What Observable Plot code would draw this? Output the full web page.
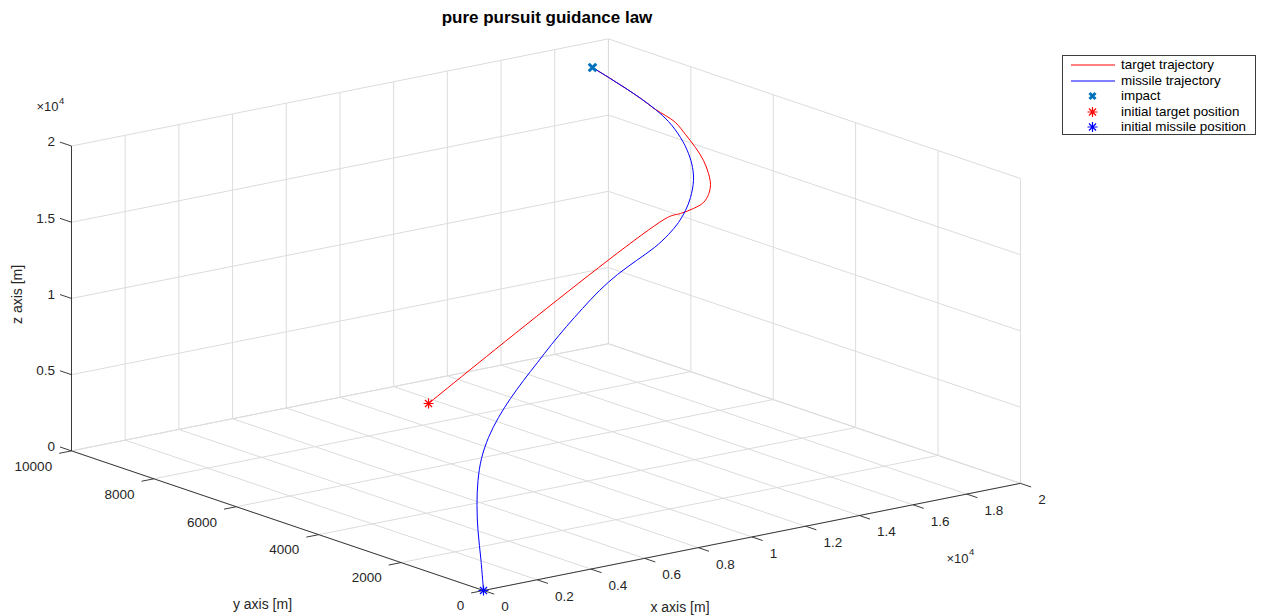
<!DOCTYPE html>
<html>
<head>
<meta charset="utf-8">
<script src="https://cdn.jsdelivr.net/npm/d3@7"></script>
<script src="https://cdn.jsdelivr.net/npm/@observablehq/plot@0.6"></script>
<style>
  html, body { margin: 0; padding: 0; background: #ffffff; }
  body { font-family: "Liberation Sans", Arial, Helvetica, sans-serif; }
  #wrap { position: relative; width: 1261px; height: 616px; overflow: hidden; }
  #chart { position: absolute; left: 0; top: 0; }
  #title { position: absolute; left: 0; width: 1094px; top: 8px; text-align: center;
           font-weight: bold; font-size: 17px; color: #000; }
  #legend { position: absolute; left: 1062px; top: 55px; width: 194px; height: 80px;
            border: 1px solid #3c3c3c; background: #fff; box-sizing: border-box; }
  .lrow { position: absolute; left: 0; height: 16px; width: 192px; }
  .lrow svg { position: absolute; left: 8px; top: 0; }
  .lrow span { position: absolute; left: 58px; top: 0; line-height: 16px; font-size: 13.4px; color: #000; white-space: nowrap; }
</style>
</head>
<body>
<div id="wrap">
  <div id="chart"></div>
  <div id="title"></div>
  <div id="legend"></div>
</div>
<script>
// ---------------- data (metres) ----------------
const titleText = "pure pursuit guidance law";
const xLabel = "x axis [m]", yLabel = "y axis [m]", zLabel = "z axis [m]";

const xTicks = [0, 2000, 4000, 6000, 8000, 10000, 12000, 14000, 16000, 18000, 20000];
const xTickLabels = ["0", "0.2", "0.4", "0.6", "0.8", "1", "1.2", "1.4", "1.6", "1.8", "2"];
const yTicks = [0, 2000, 4000, 6000, 8000, 10000];
const yTickLabels = ["0", "2000", "4000", "6000", "8000", "10000"];
const zTicks = [0, 5000, 10000, 15000, 20000];
const zTickLabels = ["0", "0.5", "1", "1.5", "2"];
const exponentBase = "\u00d710", exponentPower = "4";

const xLim = [0, 20000], yLim = [0, 10000], zLim = [0, 20000];
const viewAz = -37.5, viewEl = 30;

const targetX = [10230, 16982, 17390, 17951, 18477, 18970, 19351, 19584, 19705, 19713, 19648, 19582, 19363, 19068, 18930, 18659, 18352, 18025];
const targetY = [8000, 6600, 6550, 6600, 6700, 6900, 7100, 7300, 7500, 7700, 7900, 8100, 8200, 8250, 8500, 8700, 8900, 9100];
const targetZ = [1345, 12457, 12622, 12707, 12824, 12992, 13331, 13788, 14415, 15082, 15774, 16401, 16846, 17298, 17806, 18407, 19021, 19641];

const missileX = [0, 521, 1176, 1906, 2711, 3532, 4407, 5316, 6300, 7322, 8380, 9439, 10535, 11668, 12838, 13969, 15137, 16191, 17020, 17622, 18113, 18530, 18872, 19065, 19223, 19232, 19168, 19068, 18930, 18659, 18352, 18025];
const missileY = [0, 400, 900, 1400, 1900, 2350, 2750, 3100, 3450, 3800, 4150, 4500, 4850, 5200, 5550, 5850, 6150, 6400, 6600, 6750, 6900, 7050, 7200, 7350, 7550, 7750, 8000, 8250, 8500, 8700, 8900, 9100];
const missileZ = [0, 1419, 2699, 3624, 4523, 5266, 5970, 6642, 7222, 7723, 8211, 8700, 9175, 9637, 10086, 10463, 10696, 10950, 11328, 11766, 12244, 12813, 13671, 14318, 14998, 15861, 16704, 17298, 17806, 18407, 19021, 19641];

const impactPoint = [18025, 9100, 19641];
const targetStart = [10230, 8000, 1345];
const missileStart = [0, 0, 0];

const legendLabels = ["target trajectory", "missile trajectory", "impact", "initial target position", "initial missile position"];

// ---------------- styles ----------------
const RED = "#ff0000", BLUE = "#0000ff", IMPACT = "#0072bd";
const GRID = "#dcdcdc", AXIS = "#262626";
const FONT = "Liberation Sans, Arial, Helvetica, sans-serif";

// ---------------- 3D view projection (MATLAB-like orthographic view) ----------------
const a = viewAz * Math.PI / 180, e = viewEl * Math.PI / 180;
function P(x, y, z) {
  const u = (x - xLim[0]) / (xLim[1] - xLim[0]);
  const v = (y - yLim[0]) / (yLim[1] - yLim[0]);
  const w = (z - zLim[0]) / (zLim[1] - zLim[0]);
  return {
    px: Math.cos(a) * u + Math.sin(a) * v,
    py: -Math.sin(e) * Math.sin(a) * u + Math.sin(e) * Math.cos(a) * v + Math.cos(e) * w
  };
}
function seg(p, q) { const A = P(...p), B = P(...q); return {x1: A.px, y1: A.py, x2: B.px, y2: B.py}; }

// grid on floor and the two back walls
const grid = [];
for (const x of xTicks) {
  grid.push(seg([x, yLim[0], zLim[0]], [x, yLim[1], zLim[0]]));
  grid.push(seg([x, yLim[1], zLim[0]], [x, yLim[1], zLim[1]]));
}
for (const y of yTicks) {
  grid.push(seg([xLim[0], y, zLim[0]], [xLim[1], y, zLim[0]]));
  grid.push(seg([xLim[1], y, zLim[0]], [xLim[1], y, zLim[1]]));
}
for (const z of zTicks) {
  grid.push(seg([xLim[0], yLim[1], z], [xLim[1], yLim[1], z]));
  grid.push(seg([xLim[1], yLim[0], z], [xLim[1], yLim[1], z]));
}

// axis lines
const axes = [
  seg([xLim[0], yLim[0], zLim[0]], [xLim[1], yLim[0], zLim[0]]),
  seg([xLim[0], yLim[0], zLim[0]], [xLim[0], yLim[1], zLim[0]]),
  seg([xLim[0], yLim[1], zLim[0]], [xLim[0], yLim[1], zLim[1]])
];

// ticks
const tkY = 0.023 * (xLim[1] - xLim[0]);   // y ticks point to -x
const tkZ = 0.028 * (yLim[1] - yLim[0]);   // z ticks point to +y
const tkX = 0.026 * (yLim[1] - yLim[0]);   // x ticks point to -y
const ticks = [], xLab = [], yLab = [], zLab = [];
xTicks.forEach((x, i) => {
  const s = seg([x, yLim[0], zLim[0]], [x, yLim[0] - tkX, zLim[0]]);
  ticks.push(s); xLab.push({x: s.x2, y: s.y2, t: xTickLabels[i]});
});
yTicks.forEach((y, i) => {
  const s = seg([xLim[0], y, zLim[0]], [xLim[0] - tkY, y, zLim[0]]);
  ticks.push(s); yLab.push({x: s.x2, y: s.y2, t: yTickLabels[i]});
});
zTicks.forEach((z, i) => {
  const s = seg([xLim[0], yLim[1], z], [xLim[0], yLim[1] + tkZ, z]);
  ticks.push(s); zLab.push({x: s.x2, y: s.y2, t: zTickLabels[i]});
});

const target = targetX.map((x, i) => P(x, targetY[i], targetZ[i]));
const missile = missileX.map((x, i) => P(x, missileY[i], missileZ[i]));
const impactP = [P(...impactPoint)];
const tStartP = [P(...targetStart)];
const mStartP = [P(...missileStart)];

const zAxisMid = [P(xLim[0], yLim[1], (zLim[0] + zLim[1]) / 2)];
const yAxisMid = [P(xLim[0], (yLim[0] + yLim[1]) / 2, zLim[0])];
const xAxisMid = [P((xLim[0] + xLim[1]) / 2, yLim[0], zLim[0])];
const zTop = [P(xLim[0], yLim[1], zLim[1])];
const xEnd = [P(xLim[1], yLim[0], zLim[0])];

// custom marker symbols
const asterisk = {draw(ctx, size) {
  const r = Math.sqrt(size / Math.PI), d = r * Math.SQRT1_2;
  ctx.moveTo(-r, 0); ctx.lineTo(r, 0); ctx.moveTo(0, -r); ctx.lineTo(0, r);
  ctx.moveTo(-d, -d); ctx.lineTo(d, d); ctx.moveTo(-d, d); ctx.lineTo(d, -d);
}};
const cross = {draw(ctx, size) {
  const r = Math.sqrt(size / Math.PI) * 0.75;
  ctx.moveTo(-r, -r); ctx.lineTo(r, r); ctx.moveTo(-r, r); ctx.lineTo(r, -r);
}};

const W = 1261, H = 616;
const txt = (data, o) => Plot.text(data, {x: "px", y: "py", fill: AXIS, fontFamily: FONT, ...o});
const chart = Plot.plot({
  width: W, height: H,
  margin: 0,
  x: {domain: [-483 / 676.8, (W - 483) / 676.8], range: [0, W], axis: null},
  y: {domain: [-(H - 590) / 352, 590 / 352], range: [H, 0], axis: null},
  style: {background: "#fff", fontFamily: FONT},
  marks: [
    Plot.link(grid, {x1: "x1", y1: "y1", x2: "x2", y2: "y2", stroke: GRID, strokeWidth: 1}),
    Plot.link(axes, {x1: "x1", y1: "y1", x2: "x2", y2: "y2", stroke: AXIS, strokeWidth: 0.9}),
    Plot.link(ticks, {x1: "x1", y1: "y1", x2: "x2", y2: "y2", stroke: AXIS, strokeWidth: 0.9}),
    Plot.text(xLab, {x: "x", y: "y", text: "t", textAnchor: "start", dx: 7, dy: 13, fontSize: 13.5, fill: AXIS, fontFamily: FONT}),
    Plot.text(yLab, {x: "x", y: "y", text: "t", textAnchor: "end", dx: -7, dy: 13, fontSize: 13.5, fill: AXIS, fontFamily: FONT}),
    Plot.text(zLab, {x: "x", y: "y", text: "t", textAnchor: "end", dx: -5, dy: 0, fontSize: 13.5, fill: AXIS, fontFamily: FONT}),
    txt(zTop, {text: () => exponentBase, textAnchor: "end", dx: -13, dy: -39, fontSize: 13}),
    txt(zTop, {text: () => exponentPower, textAnchor: "start", dx: -12.5, dy: -45, fontSize: 9.5}),
    txt(xEnd, {text: () => exponentBase, textAnchor: "end", dx: -52, dy: 75, fontSize: 13}),
    txt(xEnd, {text: () => exponentPower, textAnchor: "start", dx: -51.5, dy: 69, fontSize: 9.5}),
    txt(zAxisMid, {text: () => zLabel, rotate: -90, dx: -54, dy: -4, fontSize: 14}),
    txt(yAxisMid, {text: () => yLabel, dx: -15, dy: 84, fontSize: 14}),
    txt(xAxisMid, {text: () => xLabel, dx: -72, dy: 71, fontSize: 14}),
    Plot.line(target, {x: "px", y: "py", stroke: RED, strokeWidth: 1, curve: "catmull-rom"}),
    Plot.line(missile, {x: "px", y: "py", stroke: BLUE, strokeWidth: 1, curve: "catmull-rom"}),
    Plot.dot(impactP, {x: "px", y: "py", symbol: cross, r: 5, stroke: IMPACT, strokeWidth: 3, fill: "none"}),
    Plot.dot(tStartP, {x: "px", y: "py", symbol: asterisk, r: 5, stroke: RED, strokeWidth: 1.2, fill: "none"}),
    Plot.dot(mStartP, {x: "px", y: "py", symbol: asterisk, r: 5, stroke: BLUE, strokeWidth: 1.2, fill: "none"})
  ]
});
document.getElementById("chart").appendChild(chart);
document.getElementById("title").textContent = titleText;

// ---------------- legend ----------------
const legend = document.getElementById("legend");
const kinds = [
  {type: "line", color: RED}, {type: "line", color: BLUE},
  {type: "cross", color: IMPACT}, {type: "star", color: RED}, {type: "star", color: BLUE}
];
legendLabels.forEach((lab, i) => {
  const row = document.createElement("div");
  row.className = "lrow";
  row.style.top = (1 + i * 15.6) + "px";
  const k = kinds[i];
  let icon = "";
  if (k.type === "line") icon = `<line x1="0" y1="8" x2="44" y2="8" stroke="${k.color}" stroke-width="1"/>`;
  else if (k.type === "cross") icon = `<path d="M18.5,5L24.5,11M18.5,11L24.5,5" stroke="${k.color}" stroke-width="3" fill="none"/>`;
  else {
    const c = 21.5, r = 5, d = r * Math.SQRT1_2;
    icon = `<path d="M${c - r},8H${c + r}M${c},${8 - r}V${8 + r}M${c - d},${8 - d}L${c + d},${8 + d}M${c - d},${8 + d}L${c + d},${8 - d}" stroke="${k.color}" stroke-width="1.2" fill="none"/>`;
  }
  row.innerHTML = `<svg width="46" height="16">${icon}</svg><span>${lab}</span>`;
  legend.appendChild(row);
});
</script>
</body>
</html>
